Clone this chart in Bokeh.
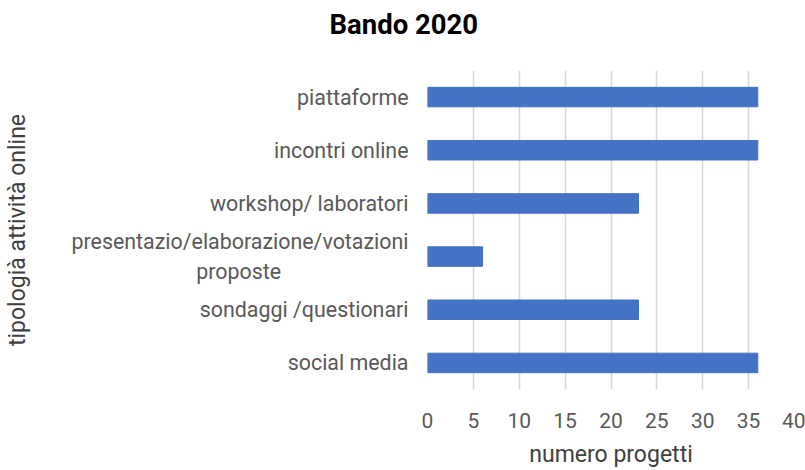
from bokeh.plotting import figure
from bokeh.layouts import column
from bokeh.models import ColumnDataSource, FactorRange, Range1d, FixedTicker
from bokeh.embed import file_html
from bokeh.resources import INLINE

PAD = "\u00a0" * 24
title_text = "Bando 2020"
categories = ["piattaforme", "incontri online", "workshop/ laboratori",
              "presentazio/elaborazione/votazioni\nproposte" + PAD,
              "sondaggi /questionari", "social media"]
values = [36, 36, 23, 6, 23, 36]
x_ticks = [0, 5, 10, 15, 20, 25, 30, 35, 40]

factors = list(reversed(categories))
src = ColumnDataSource(dict(cat=categories, val=values))

FONT = "Roboto"
TXT = "#595959"
W, H = 805, 470
TH = 47                      # height of the title strip
BL, BR, BT, BB = 426, 11, 70 - TH, 74

# ---- title strip (a figure holding only the chart title) ----
t = figure(width=W, height=TH, output_backend="svg", toolbar_location=None,
           x_axis_type=None, y_axis_type=None,
           min_border_left=0, min_border_right=0, min_border_top=0, min_border_bottom=0)
t.outline_line_color = None
t.grid.grid_line_color = None
t.title.text = title_text
t.title.align = "left"
t.title.offset = 328 - BL    # the column aligns this strip's frame with the chart's frame
t.title.vertical_align = "bottom"
t.title.standoff = 11
t.title.text_font = FONT
t.title.text_font_style = "bold"
t.title.text_font_size = "27.5px"
t.title.text_color = "#000000"

# ---- main chart ----
p = figure(width=W, height=H - TH, output_backend="svg", toolbar_location=None,
           y_range=FactorRange(factors=factors, range_padding=0),
           x_range=Range1d(0, 40),
           min_border_left=BL, min_border_right=BR, min_border_top=BT, min_border_bottom=BB)

p.hbar(y="cat", right="val", left=0, height=0.367, source=src,
       fill_color="#4472C4", line_color="#4472C4")

p.outline_line_color = None
p.background_fill_color = "white"

p.xgrid.ticker = FixedTicker(ticks=x_ticks)
p.xgrid.grid_line_color = "#d9d9d9"
p.xgrid.grid_line_width = 1.6
p.ygrid.grid_line_color = None

xa = p.xaxis[0]
xa.ticker = FixedTicker(ticks=x_ticks)
xa.axis_line_color = None
xa.major_tick_line_color = None
xa.minor_tick_line_color = None
xa.major_tick_out = 0
xa.major_label_standoff = 23
xa.major_label_text_font = FONT
xa.major_label_text_font_size = "21px"
xa.major_label_text_color = TXT
xa.axis_label = "numero progetti"
xa.axis_label_text_font = FONT
xa.axis_label_text_font_size = "23px"
xa.axis_label_text_font_style = "normal"
xa.axis_label_text_color = "#404040"
xa.axis_label_standoff = 10

ya = p.yaxis[0]
ya.axis_line_color = None
ya.major_tick_line_color = None
ya.major_tick_out = 0
ya.major_label_standoff = 19
ya.major_label_text_font = FONT
ya.major_label_text_font_size = "21.4px"
ya.major_label_text_color = TXT
ya.axis_label = "tipologià attività online"
ya.axis_label_text_font = FONT
ya.axis_label_text_font_size = "23px"
ya.axis_label_text_font_style = "normal"
ya.axis_label_text_color = "#404040"
ya.axis_label_standoff = 38

open("out.html", "w").write(file_html(column(t, p), INLINE))
